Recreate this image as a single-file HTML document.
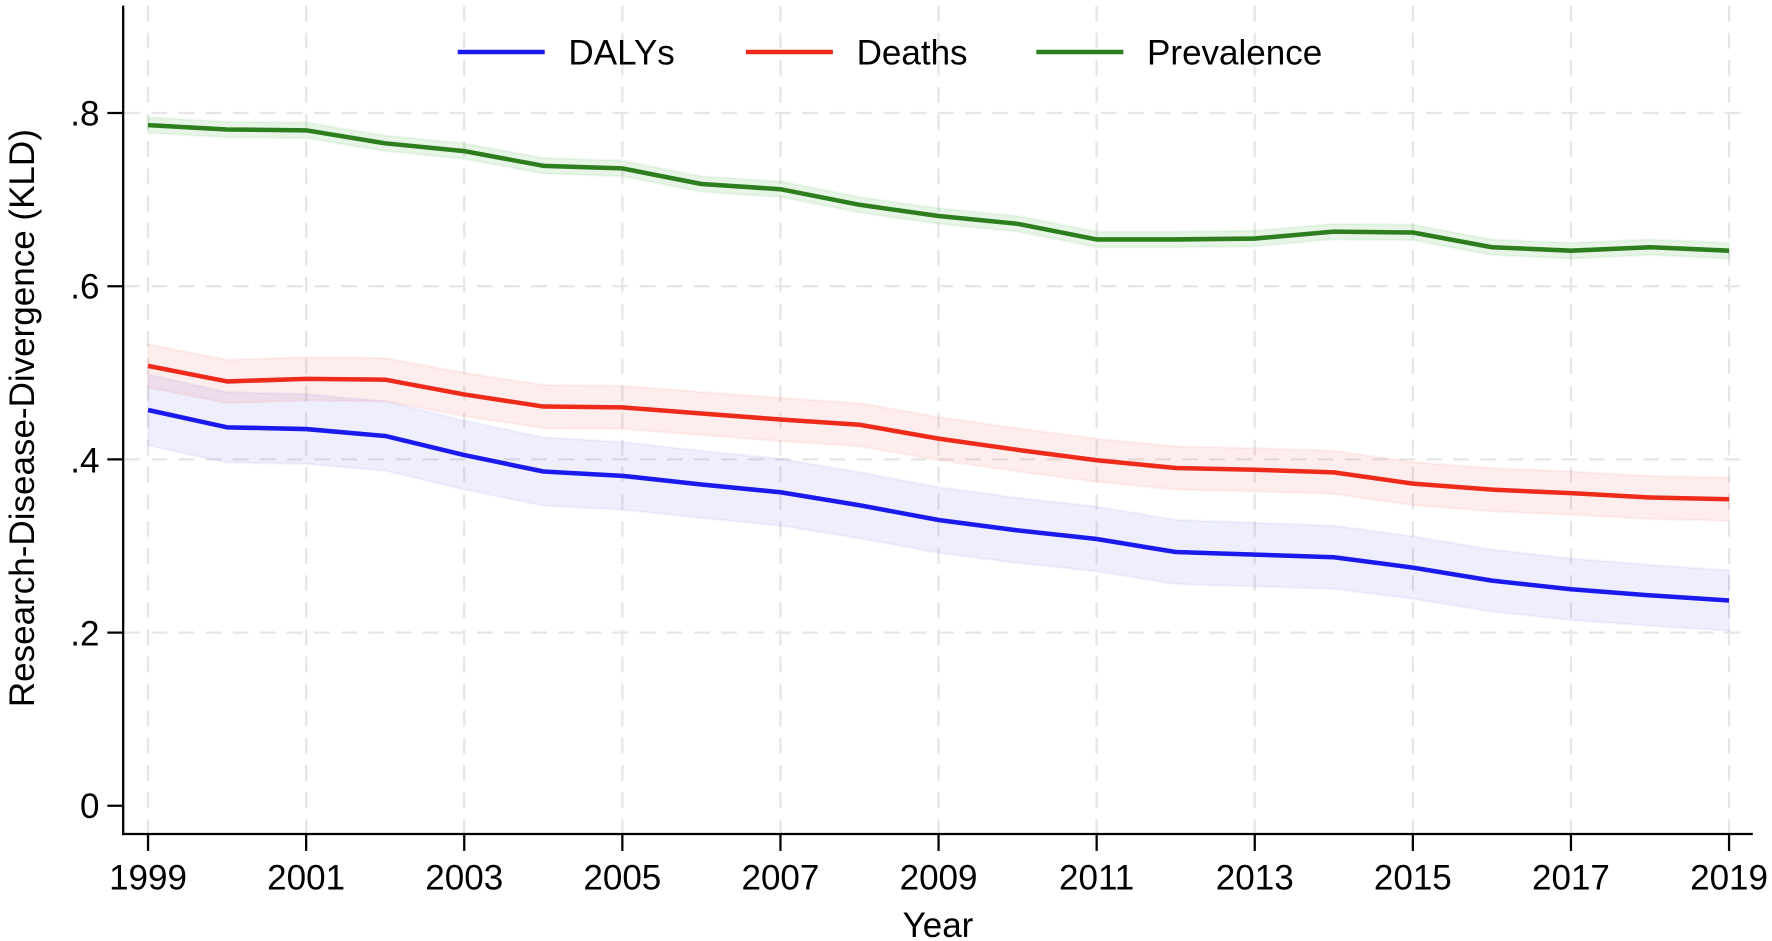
<!DOCTYPE html>
<html><head><meta charset="utf-8"><style>html,body{margin:0;padding:0;background:#fff}svg{display:block}</style></head>
<body>
<svg width="1772" height="941" viewBox="0 0 1568 832.7" preserveAspectRatio="none" xmlns="http://www.w3.org/2000/svg" font-family="Liberation Sans, Arial, sans-serif">
<rect width="1568" height="833" fill="#fff"/>
<g stroke="#e6e6e6" stroke-width="2" stroke-dasharray="14,10">
<line x1="110" x2="1550" y1="559.8" y2="559.8"/>
<line x1="110" x2="1550" y1="406.5" y2="406.5"/>
<line x1="110" x2="1550" y1="253.3" y2="253.3"/>
<line x1="110" x2="1550" y1="100" y2="100"/>
<g id="vg"></g>
</g>
<g id="bands"></g>
<g id="lines"></g>
<g stroke="#000" stroke-width="2" fill="none">
<line x1="109" y1="5" x2="109" y2="739"/>
<line x1="108" y1="738" x2="1551" y2="738"/>
<line x1="95" x2="109" y1="713" y2="713"/>
<line x1="95" x2="109" y1="559.8" y2="559.8"/>
<line x1="95" x2="109" y1="406.5" y2="406.5"/>
<line x1="95" x2="109" y1="253.3" y2="253.3"/>
<line x1="95" x2="109" y1="100" y2="100"/>
<g id="tk"></g>
</g>
<g font-size="31" fill="#000" text-anchor="end">
<text x="88" y="724">0</text>
<text x="88" y="571">.2</text>
<text x="88" y="418">.4</text>
<text x="88" y="264">.6</text>
<text x="88" y="111">.8</text>
</g>
<g id="xl" font-size="31" fill="#000" text-anchor="middle"></g>
<text x="830" y="829" font-size="31" text-anchor="middle">Year</text>
<text transform="translate(30,370) rotate(-90)" font-size="31" text-anchor="middle">Research-Disease-Divergence (KLD)</text>
<g stroke-width="4">
<line x1="405" x2="482" y1="46" y2="46" stroke="#1a1aee"/>
<line x1="660" x2="737" y1="46" y2="46" stroke="#ee2a1a"/>
<line x1="917" x2="994" y1="46" y2="46" stroke="#2e7d1e"/>
</g>
<g font-size="31" fill="#000">
<text x="503" y="57">DALYs</text>
<text x="758" y="57">Deaths</text>
<text x="1015" y="57">Prevalence</text>
</g>
<script>
var X=function(i){return 131+i*69.95},Y=function(v){return 713-v*766.25};
var ns="http://www.w3.org/2000/svg";
function el(p,t,a){var e=document.createElementNS(ns,t);for(var k in a)e.setAttribute(k,a[k]);document.getElementById(p).appendChild(e);return e}
for(var i=0;i<=20;i+=2){el('vg','line',{x1:X(i),x2:X(i),y1:5,y2:738});el('tk','line',{x1:X(i),x2:X(i),y1:738,y2:753});var t=el('xl','text',{x:X(i),y:787});t.textContent=1999+i;}
var G=[.786,.781,.780,.765,.756,.739,.736,.718,.712,.694,.681,.672,.654,.654,.655,.663,.662,.645,.641,.645,.641];
var R=[.508,.490,.493,.492,.475,.461,.460,.453,.446,.440,.424,.411,.399,.390,.388,.385,.372,.365,.361,.356,.354];
var B=[.457,.437,.435,.427,.405,.386,.381,.371,.362,.347,.330,.318,.308,.293,.290,.287,.275,.260,.250,.243,.237];
function draw(d,w,col,fill){var up=[],dn=[],ln=[];d.forEach(function(v,i){var ww=typeof w=='function'?w(i):w;up.push(X(i)+','+Y(v+ww));dn.unshift(X(i)+','+Y(v-ww));ln.push(X(i)+','+Y(v));});
el('bands','polygon',{points:up.concat(dn).join(' '),fill:fill,stroke:fill,'stroke-width':2,'stroke-opacity':0.6});
el('lines','polyline',{points:ln.join(' '),fill:'none',stroke:col,'stroke-width':4,'stroke-linejoin':'round'});}
draw(B,function(i){return .041-i*.0003},'#1a1aee','rgba(70,70,230,0.09)');
draw(R,.025,'#ee2a1a','rgba(230,60,40,0.09)');
draw(G,.009,'#2e7d1e','rgba(60,170,60,0.12)');
</script>
</svg>
</body></html>
